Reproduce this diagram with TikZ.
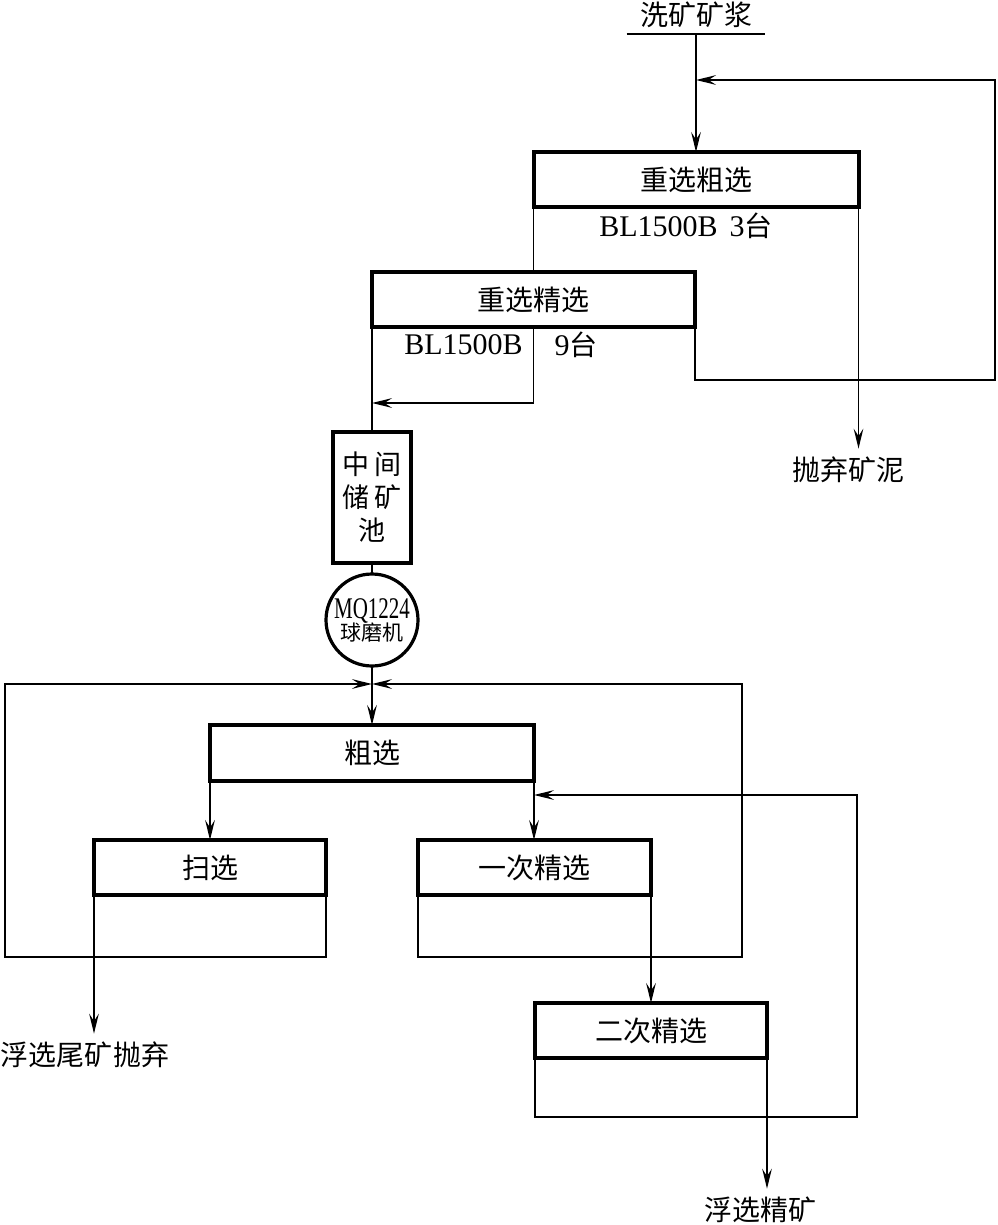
\documentclass[tikz,border=0pt]{standalone}
\usepackage{fontspec}
\setmainfont{Liberation Serif}
\newfontfamily\cjk{Noto Sans CJK SC}
\usepackage{graphicx}
\usetikzlibrary{arrows.meta}
\tikzset{
  procbox/.style ={rectangle, draw, line width=2pt, outer sep=0pt, inner sep=0pt,
                   minimum height=27.5pt, font=\cjk\fontsize{14}{16}\selectfont},
  tankbox/.style ={rectangle, draw, line width=2pt, outer sep=0pt, inner sep=0pt,
                   minimum width=39pt, minimum height=65.5pt, align=center,
                   font=\cjk\fontsize{13.5}{16.5}\selectfont},
  millnode/.style={circle, draw, line width=1.6pt, outer sep=0pt, inner sep=0pt,
                   minimum size=46pt, align=center},
  lbl/.style     ={inner sep=0pt, font=\cjk\fontsize{14}{16}\selectfont},
  tag/.style     ={inner sep=0pt, font=\fontsize{15}{17}\selectfont},
  pipe/.style    ={line width=0.8pt},
  flow/.style    ={-{Stealth[length=3.5mm, width=1.7mm, inset=1.3mm]}, line width=0.8pt},
}
\begin{document}
\begin{tikzpicture}[x=0.5pt, y=-0.5pt]
  \useasboundingbox (0,0) rectangle (997,1225);
  % gravity section
  \node[lbl, minimum width=69pt, anchor=south, inner ysep=3pt] (feed) at (696,34) {洗矿矿浆};
  \node[procbox, minimum width=162.5pt] (grough) at (696,179.5) {重选粗选};
  \node[tag] (grough-tag) at (686,226) {BL1500B\hspace{6pt}3{\cjk\fontsize{14}{16}\selectfont 台}};
  \node[procbox, minimum width=161.5pt] (gclean) at (533.5,299.5) {重选精选};
  \node[tag, anchor=east] (gclean-tag) at (523,345) {BL1500B};
  \node[tag] (gclean-num) at (576,345) {9{\cjk\fontsize{14}{16}\selectfont 台}};
  \node[lbl] (slime) at (848,470) {抛弃矿泥};
  \node[tankbox] (pool) at (372,497.5) {中\,间\\储\,矿\\池};
  \node[millnode] (mill) at (372,620) {\scalebox{0.7}[1]{\fontsize{15}{15}\selectfont MQ1224}\\[-1pt]{\cjk\fontsize{10.5}{12}\selectfont 球磨机}};
  % flotation section
  \node[procbox, minimum width=162pt, minimum height=28pt] (rough) at (372,753) {粗选};
  \node[procbox, minimum width=116pt] (scav) at (210,867.5) {扫选};
  \node[procbox, minimum width=116.5pt] (clean1) at (534.5,867.5) {一次精选};
  \node[procbox, minimum width=116pt] (clean2) at (651,1030.5) {二次精选};
  \node[lbl] (tail) at (85,1055) {浮选尾矿抛弃};
  \node[lbl] (conc) at (760,1210) {浮选精矿};
  % turning points of the return lines
  \coordinate (feedjoin) at (696,80);
  \coordinate (mudturn) at (995,380);
  \coordinate (pooljoin) at (372,403);
  \coordinate (mix) at (372,684);
  \coordinate (scavturn) at (5,957);
  \coordinate (cl1turn) at (742,957);
  \coordinate (cl2turn) at (857,1117);
  \coordinate (cl1join) at (534,795);
  % connectors
  \draw[pipe] (feed.south west) -- (feed.south east);
  \draw[flow] (feed.south) -- (grough.north);
  \draw[pipe] (grough.south west) -- (grough.south west |- gclean.north);
  \draw[flow, shorten >=4pt] (grough.south east) -- (grough.south east |- slime.north);
  \draw[flow] (gclean.south east) |- (mudturn) |- (feedjoin);
  \draw[flow] (gclean.south) |- (pooljoin);
  \draw[pipe] (gclean.south west) -- (gclean.south west |- pool.north);
  \draw[pipe] (pool.south) -- (mill.north);
  \draw[flow] (mill.south) -- (rough.north);
  \draw[flow] (scav.south east) |- (scavturn) |- (mix);
  \draw[flow] (clean1.south west) |- (cl1turn) |- (mix);
  \draw[flow] (rough.south west) -- (rough.south west |- scav.north);
  \draw[flow] (rough.south east) -- (rough.south east |- clean1.north);
  \draw[flow] (clean2.south west) |- (cl2turn) |- (cl1join);
  \draw[flow, shorten >=4pt] (scav.south west) -- (scav.south west |- tail.north);
  \draw[flow] (clean1.south east) -- (clean1.south east |- clean2.north);
  \draw[flow, shorten >=4pt] (clean2.south east) -- (clean2.south east |- conc.north);
\end{tikzpicture}
\end{document}
